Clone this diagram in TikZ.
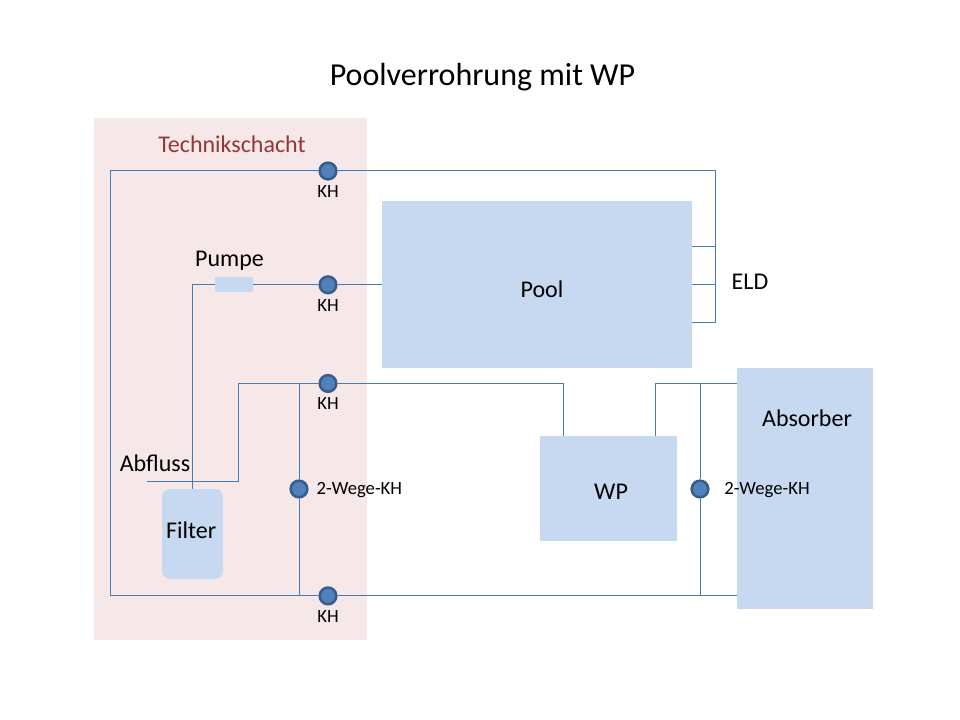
\documentclass[tikz,border=0pt]{standalone}
\usepackage{fontspec}
\setmainfont{Carlito}
\usetikzlibrary{positioning}
\definecolor{boxblue}{HTML}{C6D9F1}
\definecolor{shaftpink}{HTML}{F6E7E8}
\definecolor{shaftred}{HTML}{953735}
\definecolor{pipeblue}{HTML}{4A7BAE}
\definecolor{valveblue}{HTML}{4F81BD}
\definecolor{valveedge}{HTML}{385D8A}
\tikzstyle{block}=[rectangle, fill=boxblue, inner sep=0pt, outer sep=0pt]
\tikzstyle{blocktext}=[font=\fontsize{18}{22}\selectfont]
\tikzstyle{valve}=[circle, fill=valveblue, draw=valveedge, line width=1.9pt, inner sep=0pt, minimum size=12.5pt, label distance=3.25pt]
\tikzstyle{small}=[font=\fontsize{14}{16}\selectfont, text=black]
\tikzstyle{caption}=[font=\fontsize{18}{22}\selectfont, inner sep=0pt]
\tikzstyle{pipe}=[draw=pipeblue, line width=0.75pt]

\begin{document}
\begin{tikzpicture}[x=0.75pt, y=-0.75pt, node distance=30mm]
      \useasboundingbox (0,0) rectangle (960,720);
      \node[rectangle, fill=shaftpink, inner sep=0pt, minimum width=204.75pt, minimum height=391.5pt] (shaft) at (230.5,379) {};

      \node[caption, font=\fontsize{24}{28}\selectfont] (title) at (482.5,77) {Poolverrohrung mit WP};
      \node[caption, text=shaftred] (shaftlabel) at (232,144) {Technikschacht};
      \node[caption] (pumplabel) at (229.5,261) {Pumpe};
      \node[caption] (drainlabel) at (155,463) {Abfluss};
      \node[caption] (eldlabel) at (750,282) {ELD};

      \node[block, minimum width=232.5pt, minimum height=125.25pt, label={[blocktext,xshift=3.75pt,yshift=-3.4pt]center:Pool}] (pool) at (537,284.5) {};
      \node[block, minimum width=102.75pt, minimum height=78.75pt, label={[blocktext,xshift=1.9pt,yshift=-2.6pt]center:WP}] (wp) at (608.5,488.5) {};
      \node[block, minimum width=102pt, minimum height=180.75pt, label={[blocktext,xshift=1.5pt,yshift=52.9pt]center:Absorber}] (absorber) at (805,488.5) {};
      \node[block, rounded corners=6pt, minimum width=45.75pt, minimum height=67.5pt, label={[blocktext,xshift=-1pt,yshift=3pt]center:Filter}] (filter) at (192.5,534) {};
      \node[block, rounded corners=1pt, minimum width=28.5pt, minimum height=11.25pt] (pump) at (234,284.5) {};

      \node[valve, label={[small]below:KH}] (kh1) at (328,171) {};
      \node[valve, label={[small]below:KH}] (kh2) [below of=kh1] {};
      \node[valve, label={[small]below:KH}] (kh3) [below of=kh2,yshift=4mm] {};
      \node[valve, label={[small]below:KH}] (kh4) [below of=kh3,yshift=-26mm] {};
      \node[valve, label={[small,label distance=2.5pt,yshift=-0.75pt]right:2-Wege-KH}] (way1) at (299,489) {};
      \node[valve, label={[small,label distance=7.5pt,yshift=-0.75pt]right:2-Wege-KH}] (way2) at (700,489) {};

      % return line to the pool edge
      \coordinate (tl) at (110,171);
      \coordinate (bl) at (tl |- kh4);
      \coordinate (tr) at (715,171);
      \coordinate (eld1) at (715,247);
      \coordinate (eld2) at (tr |- kh2);
      \coordinate (eld3) at (715,322);
      \draw[pipe] (kh1) -- (tl) -- (bl) -- (kh4);
      \draw[pipe] (kh1) -- (tr) -- (eld3) -- (pool.east |- eld3);
      \draw[pipe] (eld1) -- (pool.east |- eld1);
      \draw[pipe] (eld2) -- (pool.east |- eld2);

      % pump line
      \draw[pipe] (pump.west |- kh2) -| (filter);
      \draw[pipe] (pump.east |- kh2) -- (kh2);
      \draw[pipe] (kh2) -- (pool.west |- kh2);

      % drain and heat pump
      \coordinate (drain) at (147,481);
      \coordinate (riser) at (238,481);
      \coordinate (wpin) at (563,383);
      \coordinate (wpout) at (655,383);
      \draw[pipe] (drain) -- (riser) -- (riser |- kh3) -- (kh3);
      \draw[pipe] (kh3) -- (wpin |- kh3) -- (wpin |- wp.north);
      \draw[pipe] (wp.north -| wpout) -- (wpout |- kh3) -- (absorber.west |- kh3);
      \draw[pipe] (kh4) -- (absorber.west |- kh4);

      % bypasses
      \draw[pipe] (way1) -- (way1 |- kh3);
      \draw[pipe] (way1) -- (way1 |- kh4);
      \draw[pipe] (way2) -- (way2 |- kh3);
      \draw[pipe] (way2) -- (way2 |- kh4);
\end{tikzpicture}
\end{document}
